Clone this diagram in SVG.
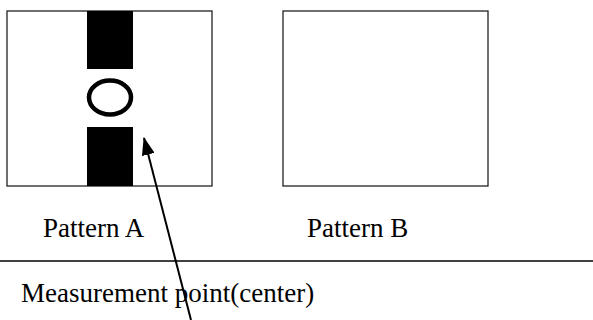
<svg xmlns="http://www.w3.org/2000/svg" width="593" height="320" viewBox="0 0 593 320">
  <style>
    .box { fill: #ffffff; stroke: #222222; stroke-width: 1.3; }
    .bar { fill: #000000; }
    .ring { fill: none; stroke: #000000; stroke-width: 4.5; }
    .lbl { font-family: "Liberation Serif", "Times New Roman", serif; font-size: 27px; fill: #000000; }
    .conn { stroke: #000000; stroke-width: 2; fill: none; }
    .rule { stroke: #000000; stroke-width: 1.5; }
  </style>
  <defs>
    <marker id="arrow" viewBox="0 0 18 13" refX="17" refY="6.5" markerWidth="18" markerHeight="13" markerUnits="userSpaceOnUse" orient="auto">
      <path d="M0,0 L18,6.5 L0,13 Z" fill="#000000"/>
    </marker>
  </defs>
  <rect width="593" height="320" fill="#ffffff"/>
  <g id="patternA">
    <rect class="box" x="7" y="11" width="205" height="175"/>
    <rect class="bar" x="87" y="11" width="46" height="58"/>
    <rect class="bar" x="87" y="127" width="46" height="59"/>
    <ellipse class="ring" cx="110" cy="97.5" rx="21" ry="17"/>
    <text class="lbl" x="43" y="237">Pattern A</text>
  </g>
  <g id="patternB">
    <rect class="box" x="283" y="11" width="205" height="175"/>
    <text class="lbl" x="307" y="237">Pattern B</text>
  </g>
  <g id="measurement">
    <line class="rule" x1="0" y1="261" x2="593" y2="261"/>
    <text class="lbl" x="21" y="302">Measurement point(center)</text>
  </g>
  <g id="connectors">
    <line class="conn" x1="191" y1="320" x2="144" y2="138" marker-end="url(#arrow)"/>
  </g>
</svg>
